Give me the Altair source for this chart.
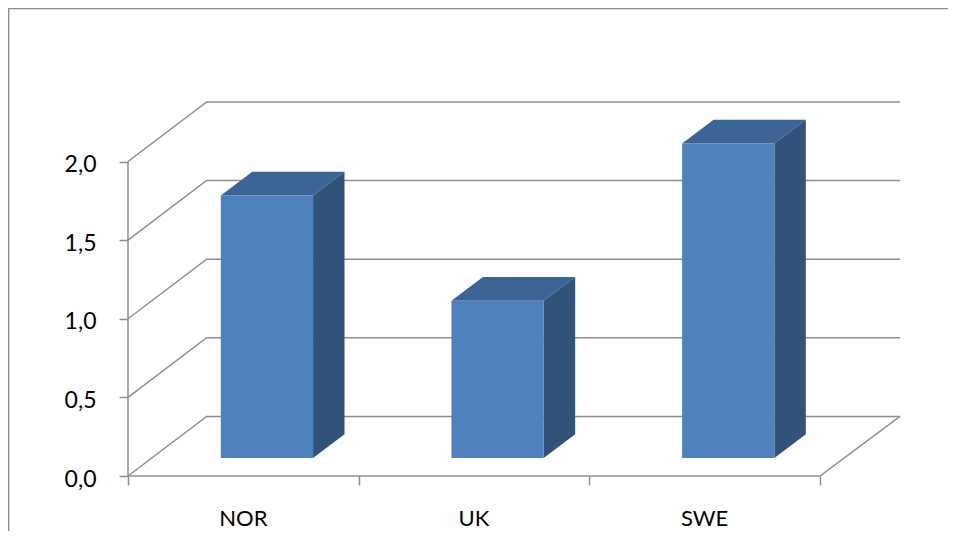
import altair as alt
import pandas as pd

categories = ["NOR", "UK", "SWE"]
values = [1.67, 1.0, 2.0]
grid_levels = [0.0, 0.5, 1.0, 1.5, 2.0]

# geometry of the pseudo-3D box, in data units
DX, DY = 0.341, 0.379      # shift of the back wall
X_MAX = 3.347              # right end of the back wall
Y_MAX = 374 / 157.25       # top of the plot area
GAP, BAR_W = 0.3, 0.4      # bar start and width in a category
D0, D1 = 0.3, 0.7          # depth of bar front and back

GREY = "#8e8e8e"
FONT = "Lato"

xs = alt.Scale(domain=[0, X_MAX], nice=False, zero=False)
ys = alt.Scale(domain=[0, Y_MAX], nice=False, zero=False)

lines, front, top, side, labels = [], [], [], [], []
for lv in grid_levels:
    for o, (x, y) in enumerate([(0, lv), (DX, lv + DY), (X_MAX, lv + DY)]):
        lines.append(dict(g=f"grid{lv}", o=o, x=x, y=y))
for o, (x, y) in enumerate([(0, 2.0), (0, 0.0), (3, 0.0), (X_MAX, DY)]):
    lines.append(dict(g="floor", o=o, x=x, y=y))

for i, (c, v) in enumerate(zip(categories, values)):
    xl = i + GAP + D0 * DX
    xr = xl + BAR_W
    base = D0 * DY
    ddx = (D1 - D0) * DX
    ddy = (D1 - D0) * DY
    ytop = v + base
    front.append(dict(c=c, x=xl, x2=xr, y=base, y2=ytop))
    top += [
        dict(c=c, x=xl, y=ytop, hi=ytop),
        dict(c=c, x=xl + ddx, y=ytop, hi=ytop + ddy),
        dict(c=c, x=xr, y=ytop, hi=ytop + ddy),
        dict(c=c, x=xr + ddx, y=ytop + ddy, hi=ytop + ddy),
    ]
    side += [
        dict(c=c, x=xr, y=base, hi=ytop),
        dict(c=c, x=xr + ddx, y=base + ddy, hi=ytop + ddy),
    ]
    labels.append(dict(c=c, x=i + 0.5))

X = alt.X("x:Q", scale=xs, title=None,
          axis=alt.Axis(values=[0, 1, 2, 3], labels=False, domain=False, grid=False,
                        tickSize=9, tickColor=GREY, tickWidth=1.5))
Y = alt.Y("y:Q", scale=ys, title=None,
          axis=alt.Axis(values=grid_levels, domain=False, grid=False, tickSize=9,
                        tickColor=GREY, tickWidth=1.5, labelPadding=23, labelOffset=3,
                        labelFontSize=23, labelFont=FONT, labelColor="#000000",
                        labelExpr="replace(format(datum.value, '.1f'), '.', ',')"))

grid = alt.Chart(pd.DataFrame(lines)).mark_line(color=GREY, strokeWidth=1.5, clip=False).encode(
    x=X, y=Y, detail="g:N", order="o:Q")


def faces(rows, color):
    return alt.Chart(pd.DataFrame(rows)).mark_area(color=color, orient="vertical", opacity=1).encode(
        x=X, y=Y, y2="hi:Q", detail="c:N")


front_l = alt.Chart(pd.DataFrame(front)).mark_rect(color="#4f81bd").encode(
    x=X, x2="x2:Q", y=Y, y2="y2:Q")

text = alt.Chart(pd.DataFrame(labels)).mark_text(fontSize=22, font=FONT, color="#000000", baseline="middle").encode(
    x=X, y=alt.value(417), text="c:N")

# outer chart frame
frame_top = alt.Chart(pd.DataFrame({"a": [0]})).mark_rule(color=GREY, strokeWidth=1.5).encode(
    x=alt.value(-119.4), x2=alt.value(830), y=alt.value(-93.4))
frame_left = alt.Chart(pd.DataFrame({"a": [0]})).mark_rule(color=GREY, strokeWidth=1.5).encode(
    x=alt.value(-119.4), y=alt.value(-94), y2=alt.value(437))

chart = alt.layer(
    grid, frame_top, frame_left, faces(top, "#3c6494"), faces(side, "#325379"), front_l, text
).properties(
    width=772, height=374,
    autosize=alt.AutoSizeParams(type="none"),
    padding={"left": 120, "top": 94, "right": 48, "bottom": 55},
    background="#ffffff",
).configure_view(stroke=None)

chart.save("out.html", embed_options={"renderer": "svg", "actions": False})
